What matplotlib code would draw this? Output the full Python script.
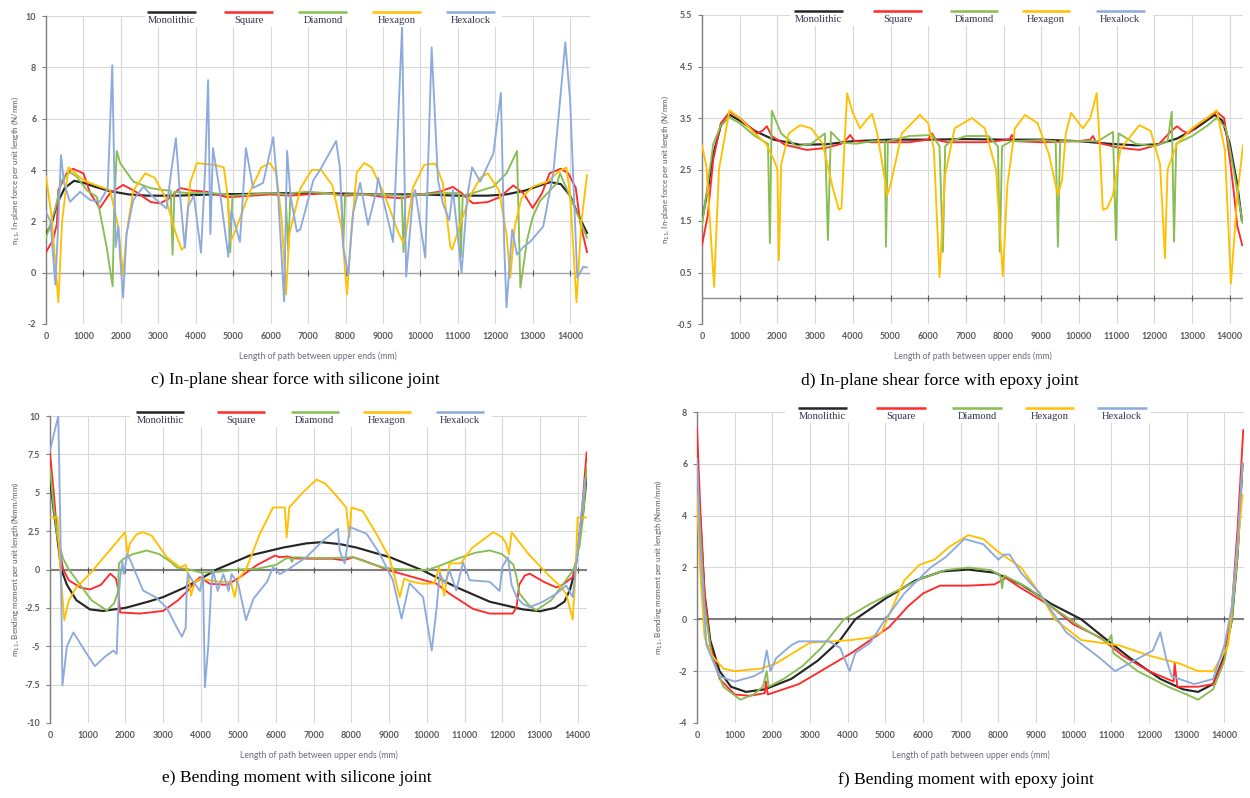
import matplotlib
matplotlib.use("Agg")
import matplotlib.pyplot as plt
from matplotlib.patches import Rectangle

# ---------------------------------------------------------------- data
names = ["Monolithic", "Square", "Diamond", "Hexagon", "Hexalock"]
colors = ["#262626", "#ff2a2a", "#88bd52", "#ffc000", "#8eaadc"]
x_ticks = list(range(0, 15000, 1000))

# c) in-plane shear force, silicone joint (N/mm)
c_mono_x = [0, 150, 300, 500, 750, 1000, 1300, 1700, 2200, 2700, 3500, 4500, 5500, 6500, 7200, 8000, 9000, 10000, 11000, 11800, 12300, 12800, 13200, 13470, 13750, 14000, 14200, 14450]
c_mono_y = [1.5, 1.9, 2.7, 3.3, 3.58, 3.5, 3.35, 3.18, 3.05, 3.0, 3.0, 3.05, 3.07, 3.1, 3.1, 3.08, 3.05, 3.05, 3.0, 3.0, 3.05, 3.2, 3.4, 3.53, 3.45, 3.0, 2.3, 1.55]
c_sq_x = [0, 190, 290, 330, 550, 720, 1000, 1180, 1440, 1710, 2060, 2400, 2800, 3050, 3300, 3580, 3900, 4300, 4800, 5000, 5500, 6000, 6500, 7000, 7500, 8000, 8500, 9000, 9500, 10000, 10500, 10870, 11100, 11400, 11800, 12130, 12480, 12750, 13000, 13250, 13450, 13750, 13950, 14150, 14270, 14450]
c_sq_y = [0.8, 1.28, 1.9, 3.22, 3.87, 4.05, 3.87, 3.1, 2.52, 3.1, 3.42, 3.15, 2.75, 2.7, 2.9, 3.3, 3.2, 3.15, 2.95, 2.95, 3.0, 3.05, 3.0, 3.05, 3.1, 3.0, 3.05, 2.95, 2.9, 3.05, 3.15, 3.34, 3.1, 2.7, 2.75, 2.95, 3.4, 3.1, 2.52, 3.1, 3.87, 4.05, 3.87, 3.3, 1.94, 0.8]
c_dia_x = [0, 240, 420, 640, 820, 1100, 1360, 1620, 1780, 1820, 1890, 1980, 2330, 2780, 3100, 3330, 3380, 3430, 3800, 4400, 4860, 4920, 4980, 5500, 6000, 6400, 6470, 6530, 7000, 7500, 7890, 7940, 7990, 8500, 9000, 9500, 9550, 9600, 10000, 10500, 11030, 11080, 11130, 11400, 11950, 12300, 12580, 12670, 12850, 13000, 13200, 13650, 13730, 14190, 14450]
c_dia_y = [1.36, 2.45, 3.6, 3.92, 3.74, 3.2, 2.95, 1.0, -0.53, 2.5, 4.74, 4.27, 3.55, 3.3, 3.22, 3.2, 0.7, 3.15, 3.1, 3.1, 3.05, 0.8, 3.0, 3.05, 3.1, 3.05, 0.85, 3.1, 3.15, 3.1, 3.0, 1.0, 3.05, 3.05, 3.05, 3.0, 0.8, 3.0, 3.05, 3.1, 3.1, 0.62, 3.0, 3.1, 3.35, 3.87, 4.74, -0.58, 1.28, 2.17, 2.8, 3.5, 3.87, 2.3, 1.36]
c_hex_x = [0, 150, 330, 430, 600, 1000, 1440, 1710, 1930, 2060, 2150, 2330, 2650, 2900, 3200, 3450, 3620, 3700, 3850, 4030, 4500, 4750, 4850, 4920, 5050, 5400, 5750, 5980, 6150, 6300, 6410, 6500, 6800, 7100, 7350, 7650, 7900, 8040, 8150, 8300, 8500, 8700, 9050, 9400, 9530, 9600, 9800, 10100, 10400, 10600, 10800, 10850, 11000, 11300, 11600, 11800, 12100, 12300, 12400, 12520, 12700, 13000, 13400, 13700, 13900, 14000, 14170, 14300, 14450]
c_hex_y = [3.74, 2.2, -1.15, 2.0, 4.1, 3.6, 3.35, 3.22, 1.8, -0.1, 1.5, 3.2, 3.87, 3.7, 2.9, 1.6, 0.9, 1.0, 3.5, 4.27, 4.2, 4.1, 3.0, 1.2, 1.6, 3.0, 4.1, 4.27, 3.9, 2.0, -0.85, 1.5, 3.3, 4.0, 4.0, 3.4, 1.7, -0.85, 1.5, 3.9, 4.27, 4.1, 3.0, 1.6, 1.2, 1.4, 3.3, 4.2, 4.25, 3.5, 1.0, 0.9, 1.6, 2.9, 3.7, 3.87, 3.2, 1.5, -0.2, 1.8, 2.9, 3.35, 3.55, 3.95, 4.1, 3.0, -1.15, 2.0, 3.8]
c_hxl_x = [0, 120, 250, 330, 400, 480, 640, 910, 1180, 1440, 1650, 1770, 1860, 1930, 1980, 2060, 2150, 2330, 2600, 2860, 3220, 3350, 3470, 3580, 3710, 3800, 3950, 4140, 4250, 4330, 4390, 4460, 4650, 4870, 4950, 5180, 5340, 5530, 5800, 6070, 6200, 6360, 6440, 6530, 6700, 6790, 7140, 7320, 7750, 7850, 7940, 8070, 8200, 8390, 8600, 8830, 8870, 9270, 9510, 9620, 9800, 9860, 10130, 10300, 10470, 10600, 10770, 10870, 11100, 11250, 11380, 11600, 11950, 12150, 12240, 12300, 12450, 12580, 12750, 12930, 13280, 13550, 13730, 13870, 14000, 14190, 14350, 14450]
c_hxl_y = [2.37, 2.0, -0.47, 2.0, 4.58, 3.5, 2.76, 3.15, 2.83, 2.76, 3.3, 8.08, 1.0, 1.8, 0.6, -0.97, 1.5, 2.83, 3.35, 2.95, 2.5, 4.0, 5.24, 3.0, 0.97, 2.6, 3.0, 0.78, 4.0, 7.5, 1.5, 4.85, 3.1, 0.62, 2.4, 1.2, 4.85, 3.3, 3.5, 5.28, 3.0, -1.12, 4.74, 3.0, 1.6, 1.68, 3.6, 4.0, 5.13, 4.1, 1.0, -0.1, 2.3, 3.5, 1.86, 3.22, 3.7, 1.2, 9.57, -0.15, 2.95, 3.22, 0.58, 8.78, 3.6, 2.7, 2.05, 3.22, 0.0, 2.95, 4.1, 3.55, 4.65, 7.0, 1.0, -1.35, 1.68, 0.7, 1.0, 1.2, 1.8, 3.88, 6.7, 8.97, 6.7, -0.2, 0.23, 0.2]

# d) in-plane shear force, epoxy joint (N/mm)
d_mono_x = [0, 150, 300, 500, 740, 1000, 1400, 1900, 2600, 3300, 4000, 5000, 6000, 7000, 8000, 9000, 10000, 10800, 11500, 12100, 12600, 13100, 13600, 13800, 14000, 14200, 14320]
d_mono_y = [1.5, 2.1, 2.8, 3.35, 3.56, 3.45, 3.25, 3.08, 2.98, 2.99, 3.05, 3.08, 3.08, 3.09, 3.08, 3.08, 3.05, 3.0, 2.97, 2.99, 3.1, 3.3, 3.56, 3.45, 3.0, 2.2, 1.52]
d_sq_x = [0, 150, 300, 500, 740, 1000, 1450, 1600, 1720, 1850, 2200, 2780, 3300, 3700, 3850, 3930, 4050, 4500, 5500, 6000, 6100, 6200, 6500, 7500, 8150, 8220, 8300, 9000, 10000, 10300, 10370, 10450, 11000, 11600, 12100, 12450, 12600, 12750, 12900, 13200, 13650, 13850, 14000, 14100, 14200, 14330]
d_sq_y = [1.03, 1.6, 2.7, 3.4, 3.62, 3.5, 3.2, 3.25, 3.34, 3.15, 2.98, 2.88, 2.92, 3.0, 3.1, 3.17, 3.05, 3.03, 3.03, 3.08, 3.2, 3.08, 3.03, 3.03, 3.08, 3.17, 3.05, 3.03, 3.05, 3.08, 3.15, 3.03, 2.93, 2.88, 2.98, 3.25, 3.34, 3.25, 3.2, 3.4, 3.62, 3.5, 2.7, 2.1, 1.4, 1.03]
d_dia_x = [0, 150, 300, 500, 700, 1000, 1400, 1750, 1800, 1850, 2100, 2500, 2900, 3260, 3340, 3420, 3700, 4100, 4500, 4850, 4880, 4930, 5500, 6100, 6300, 6390, 6450, 6600, 7000, 7600, 7850, 7900, 7960, 8200, 9000, 9380, 9440, 9500, 10000, 10500, 10900, 10980, 11050, 11500, 12000, 12350, 12460, 12520, 12580, 13000, 13400, 13650, 13900, 14100, 14340]
d_dia_y = [1.42, 2.2, 3.0, 3.35, 3.52, 3.4, 3.15, 3.0, 1.07, 3.64, 3.2, 2.95, 3.0, 3.2, 1.13, 3.23, 3.02, 3.0, 3.05, 3.05, 1.0, 3.05, 3.15, 3.17, 2.95, 0.9, 2.95, 3.05, 3.15, 3.15, 2.95, 0.9, 2.95, 3.05, 3.07, 3.05, 1.0, 3.05, 3.05, 3.05, 3.23, 1.13, 3.2, 3.0, 2.95, 3.05, 3.62, 1.1, 3.0, 3.15, 3.35, 3.5, 3.3, 2.5, 1.46]
d_hex_x = [0, 120, 320, 450, 730, 1000, 1400, 1700, 1900, 2000, 2040, 2100, 2300, 2600, 2900, 3200, 3450, 3630, 3700, 3780, 3850, 4000, 4190, 4350, 4510, 4650, 4850, 4910, 5000, 5300, 5780, 6000, 6150, 6300, 6450, 6700, 7160, 7500, 7800, 7980, 8100, 8300, 8570, 8900, 9200, 9440, 9550, 9650, 9790, 10100, 10300, 10470, 10550, 10630, 10750, 10900, 11100, 11600, 11900, 12150, 12280, 12350, 12600, 13000, 13400, 13650, 13870, 14030, 14200, 14350]
d_hex_y = [2.97, 2.55, 0.22, 2.5, 3.65, 3.5, 3.2, 3.0, 2.7, 2.5, 0.74, 2.6, 3.2, 3.36, 3.3, 3.0, 2.2, 1.72, 1.75, 3.0, 3.98, 3.6, 3.3, 3.45, 3.58, 3.2, 2.3, 2.0, 2.2, 3.2, 3.56, 3.4, 2.9, 0.41, 2.4, 3.3, 3.5, 3.3, 2.5, 0.43, 2.2, 3.3, 3.56, 3.4, 2.8, 2.0, 2.3, 3.2, 3.6, 3.3, 3.5, 3.98, 3.0, 1.72, 1.75, 2.0, 2.9, 3.36, 3.25, 2.6, 0.78, 2.5, 3.0, 3.3, 3.5, 3.65, 2.88, 0.28, 2.0, 2.97]

# e) bending moment, silicone joint (Nmm/mm)
e_mono_x = [0, 100, 180, 300, 450, 700, 1060, 1400, 2000, 2600, 3000, 3580, 4000, 4420, 5300, 6190, 6800, 7200, 7700, 8130, 9020, 9900, 10780, 11670, 12550, 13000, 13400, 13650, 13800, 13940, 14060, 14150, 14240]
e_mono_y = [6.0, 3.8, 2.35, 0.0, -1.0, -2.0, -2.6, -2.7, -2.5, -2.1, -1.8, -1.17, -0.6, 0.0, 0.91, 1.43, 1.7, 1.78, 1.65, 1.43, 0.8, -0.07, -1.15, -2.1, -2.6, -2.72, -2.5, -2.1, -1.3, 0.0, 2.35, 3.8, 6.0]
e_sq_x = [0, 100, 200, 350, 500, 800, 1060, 1350, 1600, 1750, 1800, 1860, 2390, 3000, 3400, 3650, 3850, 3980, 4100, 4240, 4700, 5040, 5500, 5970, 6100, 6300, 6500, 7000, 7500, 7800, 8040, 8300, 9020, 10260, 10600, 11230, 11670, 12280, 12380, 12450, 12600, 12730, 13100, 13440, 13600, 13870, 14000, 14120, 14240]
e_sq_y = [7.55, 5.0, 2.0, 0.0, -0.7, -1.17, -1.3, -1.0, -0.27, -0.6, -1.2, -2.8, -2.87, -2.7, -2.0, -1.4, -0.8, -0.5, -0.7, -0.93, -1.0, -0.5, 0.3, 0.91, 0.8, 0.85, 0.72, 0.7, 0.7, 0.6, 0.8, 0.6, -0.07, -0.93, -1.57, -2.57, -2.87, -2.87, -2.45, -1.0, -0.39, -0.27, -0.8, -1.17, -1.0, -0.5, 1.0, 4.0, 7.62]
e_dia_x = [0, 100, 200, 350, 500, 800, 1100, 1510, 1700, 1800, 1830, 1950, 2200, 2570, 2900, 3200, 3370, 3700, 4000, 4500, 5000, 5500, 6000, 6250, 6360, 6420, 6480, 7000, 7500, 8040, 8500, 8930, 9500, 10000, 10400, 10800, 11300, 11670, 12000, 12300, 12380, 12460, 12700, 12900, 13300, 13600, 13900, 14050, 14150, 14240]
e_dia_y = [6.58, 4.0, 2.0, 0.7, 0.0, -1.0, -2.0, -2.67, -2.2, -1.5, 0.4, 0.7, 1.0, 1.24, 1.0, 0.5, 0.13, 0.0, -0.2, -0.15, 0.0, 0.05, 0.3, 0.7, 0.78, 0.5, 0.8, 0.75, 0.75, 0.8, 0.4, 0.07, 0.0, -0.05, 0.3, 0.7, 1.1, 1.24, 1.0, 0.3, -0.5, -1.57, -2.3, -2.67, -2.0, -1.0, 0.0, 1.5, 3.5, 6.58]
e_hex_x = [0, 200, 270, 380, 500, 700, 1060, 1500, 1990, 2060, 2120, 2300, 2470, 2700, 3100, 3450, 3600, 3680, 3740, 3850, 4000, 4500, 4800, 4900, 5000, 5200, 5570, 5920, 6230, 6280, 6350, 6700, 7070, 7300, 7600, 7860, 7940, 8000, 8300, 8660, 9000, 9150, 9280, 9400, 9600, 9900, 10200, 10330, 10460, 10600, 10900, 11200, 11760, 12000, 12100, 12180, 12250, 12700, 13200, 13500, 13700, 13870, 13950, 14000, 14240]
e_hex_y = [3.39, 3.39, 0.0, -3.3, -2.0, -1.17, -0.27, 1.0, 2.43, 1.0, 1.7, 2.3, 2.43, 2.2, 0.8, 0.15, 0.3, -0.5, -1.7, -0.8, -0.6, -0.8, -0.8, -1.8, -0.6, 0.0, 2.33, 4.04, 4.04, 2.1, 4.04, 5.0, 5.86, 5.6, 4.8, 4.04, 2.1, 4.04, 3.8, 2.33, 0.8, -0.5, -1.8, -0.6, -0.8, -0.93, -0.9, 0.15, -1.7, 0.4, 0.4, 1.4, 2.43, 2.1, 1.7, 1.0, 2.43, 1.0, -0.3, -1.0, -1.6, -3.26, 0.0, 3.39, 3.39]
e_hxl_x = [0, 120, 220, 280, 330, 450, 620, 900, 1190, 1450, 1680, 1770, 1820, 1860, 1920, 1960, 2050, 2150, 2470, 2800, 3100, 3370, 3500, 3600, 3630, 3660, 3800, 3980, 4060, 4110, 4200, 4280, 4330, 4450, 4600, 4740, 4820, 5000, 5200, 5400, 5760, 5920, 6100, 6360, 6800, 7250, 7640, 7690, 7820, 7960, 8400, 8750, 9100, 9330, 9540, 9900, 10130, 10260, 10340, 10480, 10600, 10780, 10960, 11140, 11670, 11930, 12000, 12150, 12250, 12380, 12550, 12730, 13080, 13440, 13700, 13870, 14050, 14200]
e_hxl_y = [7.75, 9.0, 9.97, 2.0, -7.55, -5.0, -4.1, -5.2, -6.3, -5.7, -5.28, -5.5, -2.0, -0.6, 0.5, -0.3, 1.0, 0.5, -1.37, -1.8, -2.5, -3.8, -4.37, -3.8, -1.17, -0.27, -0.8, -1.4, -0.3, -7.68, -5.0, -1.0, -0.07, -1.4, -0.3, -1.4, -0.3, -1.0, -3.3, -1.9, -0.8, 0.15, -0.3, 0.07, 0.8, 1.89, 2.65, 1.2, 0.4, 2.76, 2.33, 1.03, -0.7, -3.2, -0.9, -1.8, -5.28, -2.5, -0.27, -0.9, -0.07, -1.37, 0.46, -0.7, -0.8, -1.4, 0.15, 0.8, -1.0, -1.8, -2.24, -2.45, -2.1, -1.57, -1.04, -1.8, 2.33, 5.9]

# f) bending moment, epoxy joint (Nmm/mm)
f_mono_x = [0, 80, 200, 350, 600, 900, 1300, 1800, 2500, 3200, 3800, 4200, 5000, 5800, 6500, 7200, 7900, 8600, 9400, 10200, 10800, 11500, 12300, 12900, 13300, 13700, 14000, 14200, 14350, 14480]
f_mono_y = [6.3, 4.0, 1.0, -0.8, -2.0, -2.6, -2.8, -2.7, -2.3, -1.6, -0.8, 0.0, 0.8, 1.5, 1.85, 1.92, 1.8, 1.35, 0.6, 0.0, -0.7, -1.5, -2.3, -2.7, -2.8, -2.5, -1.4, 0.0, 2.5, 6.0]
f_sq_x = [0, 80, 200, 350, 600, 1000, 1400, 1800, 1830, 1880, 2700, 3400, 4100, 4700, 5100, 5600, 6000, 6450, 7200, 7900, 8200, 8500, 9400, 10000, 10700, 11300, 12000, 12650, 12680, 12750, 13300, 13700, 14000, 14200, 14350, 14500]
f_sq_y = [7.4, 4.5, 1.0, -1.0, -2.3, -2.9, -2.95, -2.85, -2.4, -2.9, -2.5, -1.9, -1.3, -0.7, -0.3, 0.5, 1.0, 1.3, 1.3, 1.35, 1.6, 1.3, 0.5, -0.2, -0.7, -1.4, -2.0, -2.4, -1.7, -2.6, -2.6, -2.5, -1.5, 0.5, 3.5, 7.3]
f_dia_x = [0, 80, 200, 400, 700, 1150, 1500, 1750, 1850, 1900, 2300, 2800, 3300, 3900, 4600, 5300, 6000, 6600, 7200, 7800, 8050, 8100, 8150, 8800, 9500, 10200, 10900, 11000, 11050, 11700, 12500, 13000, 13300, 13700, 14000, 14200, 14350, 14480]
f_dia_y = [6.0, 3.5, 0.5, -1.5, -2.6, -3.1, -2.9, -2.6, -2.0, -2.6, -2.3, -1.8, -1.1, 0.0, 0.6, 1.1, 1.6, 1.9, 2.0, 1.9, 1.7, 1.2, 1.7, 1.2, 0.4, -0.3, -0.9, -0.6, -1.3, -2.0, -2.6, -2.9, -3.1, -2.7, -1.6, 0.0, 2.5, 6.0]
f_hex_x = [0, 80, 200, 400, 700, 1000, 1700, 2100, 3000, 4100, 4600, 4900, 5200, 5500, 5900, 6300, 6700, 7200, 7600, 8000, 8600, 9100, 9500, 10200, 11200, 12000, 12800, 13300, 13700, 14100, 14300, 14480]
f_hex_y = [4.8, 2.0, -0.7, -1.4, -1.9, -2.0, -1.9, -1.7, -0.9, -0.8, -0.7, -0.5, 0.5, 1.5, 2.1, 2.3, 2.8, 3.25, 3.1, 2.6, 2.0, 1.0, 0.0, -0.8, -1.0, -1.4, -1.7, -2.0, -2.0, -1.0, 2.0, 4.8]
f_hxl_x = [0, 80, 250, 600, 1000, 1500, 1750, 1850, 1950, 2100, 2500, 2700, 3500, 3800, 4050, 4200, 4600, 5000, 5500, 6200, 6600, 7100, 7600, 8000, 8150, 8300, 8600, 9100, 9800, 10700, 11100, 11600, 12100, 12300, 12450, 12600, 13200, 13700, 14000, 14200, 14350, 14480]
f_hxl_y = [6.2, 3.0, -1.0, -2.2, -2.4, -2.2, -2.0, -1.2, -2.0, -1.5, -1.0, -0.85, -0.85, -1.1, -2.0, -1.3, -0.9, 0.0, 1.0, 2.0, 2.4, 3.1, 2.9, 2.3, 2.5, 2.5, 1.8, 1.0, -0.5, -1.5, -2.0, -1.6, -1.2, -0.5, -1.5, -2.2, -2.5, -2.3, -1.0, 0.5, 3.0, 6.0]

# ---------------------------------------------------------------- layout
W, H = 1250, 798
fig = plt.figure(figsize=(W / 100, H / 100), dpi=100)
fig.patch.set_facecolor("white")

TICK_FONT = "Lato"
GRID = "#d9d9d9"
TXT = "#595959"


def px_axes(left, right, top, bottom):
    return fig.add_axes([left / W, 1 - bottom / H, (right - left) / W, (bottom - top) / H])


def build_panel(ax, series, xmax, yticks, ylabels, ylabel, ylabel_x, zero_color, zero_lw,
                legend_centers, legend_span, caption, caption_xy):
    ax.set_xlim(0, xmax)
    ax.set_ylim(yticks[0], yticks[-1])
    ax.set_xticks(x_ticks)
    ax.set_xticklabels([str(v) for v in x_ticks])
    ax.set_yticks(yticks)
    ax.set_yticklabels(ylabels)
    ax.grid(True, color=GRID, lw=0.8)
    ax.set_axisbelow(True)
    for s in ("top", "right", "bottom"):
        ax.spines[s].set_visible(False)
    ax.spines["left"].set_color("#7f7f7f")
    ax.spines["left"].set_linewidth(1.0)
    ax.tick_params(axis="x", length=0, pad=6.0, labelsize=6.4, labelcolor=TXT)
    ax.tick_params(axis="y", length=3, width=0.8, color="#7f7f7f", pad=4,
                   labelsize=6.4, labelcolor=TXT)
    for lab in ax.get_xticklabels() + ax.get_yticklabels():
        lab.set_fontfamily(TICK_FONT)
        lab.set_fontweight("bold")

    # horizontal axis line through zero with its tick marks
    ax.axhline(0, color=zero_color, lw=zero_lw, zorder=1.5)
    ax.plot(x_ticks, [0] * len(x_ticks), ls="none", marker="|", ms=5, mew=0.8,
            color="#595959", zorder=1.6)

    for (xs, ys), col in zip(series, colors):
        if xs is None:
            continue
        lw = 1.55 if col == colors[0] else 1.35
        ax.plot(xs, ys, color=col, lw=lw, solid_joinstyle="round", zorder=3)

    ax.set_ylabel(ylabel, fontsize=5.8, color=TXT, fontfamily="Lato")
    ax.yaxis.set_label_coords(ylabel_x, 0.5)
    ax.set_xlabel("Length of path between upper ends (mm)", fontsize=6.2,
                  color="#6a6a80", fontfamily="Lato")
    ax.xaxis.set_label_coords(0.5, -0.088)

    # legend: short line above each name, on a white strip over the plot top
    ax.add_patch(Rectangle((legend_span[0], 0.964), legend_span[1] - legend_span[0], 0.07,
                           transform=ax.transAxes, facecolor="white", edgecolor="none",
                           zorder=5, clip_on=False))
    for cx, name, col in zip(legend_centers, names, colors):
        ax.plot([cx - 0.045, cx + 0.045], [1.013, 1.013], transform=ax.transAxes,
                color=col, lw=1.8, solid_capstyle="butt", clip_on=False, zorder=6)
        ax.text(cx, 0.986, name, transform=ax.transAxes, ha="center", va="center",
                fontsize=7.6, fontfamily="Liberation Serif", color="#33334d", zorder=6)

    fig.text(caption_xy[0] / W, 1 - caption_xy[1] / H, caption, ha="center", va="center",
             fontsize=12.6, fontfamily="Liberation Serif", color="black")


# c)
ax_c = px_axes(46, 590, 16, 324)
build_panel(ax_c,
            [(c_mono_x, c_mono_y), (c_sq_x, c_sq_y), (c_dia_x, c_dia_y),
             (c_hex_x, c_hex_y), (c_hxl_x, c_hxl_y)],
            14530, [-2, 0, 2, 4, 6, 8, 10], ["-2", "0", "2", "4", "6", "8", "10"],
            "n$_{11}$, In-plane force per unit length (N/mm)", -0.046, "#a6a6a6", 1.0,
            [0.23, 0.373, 0.509, 0.645, 0.781], (0.182, 0.838),
            "c) In-plane shear force with silicone joint", (295, 380))

# d)
ax_d = px_axes(702, 1243, 15, 324)
build_panel(ax_d,
            [(d_mono_x, d_mono_y), (d_sq_x, d_sq_y), (d_dia_x, d_dia_y),
             (d_hex_x, d_hex_y), (None, None)],
            14350, [-0.5, 0.5, 1.5, 2.5, 3.5, 4.5, 5.5],
            ["-0.5", "0.5", "1.5", "2.5", "3.5", "4.5", "5.5"],
            "n$_{11}$, In-plane force per unit length (N/mm)", -0.057, "#8c8c8c", 1.0,
            [0.215, 0.362, 0.503, 0.636, 0.773], (0.163, 0.834),
            "d) In-plane shear force with epoxy joint", (940, 381))

# e)
ax_e = px_axes(50, 587, 416, 723)
build_panel(ax_e,
            [(e_mono_x, e_mono_y), (e_sq_x, e_sq_y), (e_dia_x, e_dia_y),
             (e_hex_x, e_hex_y), (e_hxl_x, e_hxl_y)],
            14250, [-10, -7.5, -5, -2.5, 0, 2.5, 5, 7.5, 10],
            ["-10", "-7.5", "-5", "-2.5", "0", "2.5", "5", "7.5", "10"],
            "m$_{11}$, Bending moment per unit length (Nmm/mm)", -0.054, "#7f7f7f", 1.5,
            [0.205, 0.356, 0.493, 0.627, 0.763], (0.149, 0.823),
            "e) Bending moment with silicone joint", (297, 778))

# f)
ax_f = px_axes(697, 1244, 412, 723)
build_panel(ax_f,
            [(f_mono_x, f_mono_y), (f_sq_x, f_sq_y), (f_dia_x, f_dia_y),
             (f_hex_x, f_hex_y), (f_hxl_x, f_hxl_y)],
            14520, [-4, -2, 0, 2, 4, 6, 8], ["-4", "-2", "0", "2", "4", "6", "8"],
            "m$_{11}$, Bending moment per unit length (Nmm/mm)", -0.06, "#7f7f7f", 1.5,
            [0.23, 0.373, 0.512, 0.644, 0.777], (0.16, 0.83),
            "f) Bending moment with epoxy joint", (966, 780))

fig.savefig("out.png", dpi=100, facecolor="white")
